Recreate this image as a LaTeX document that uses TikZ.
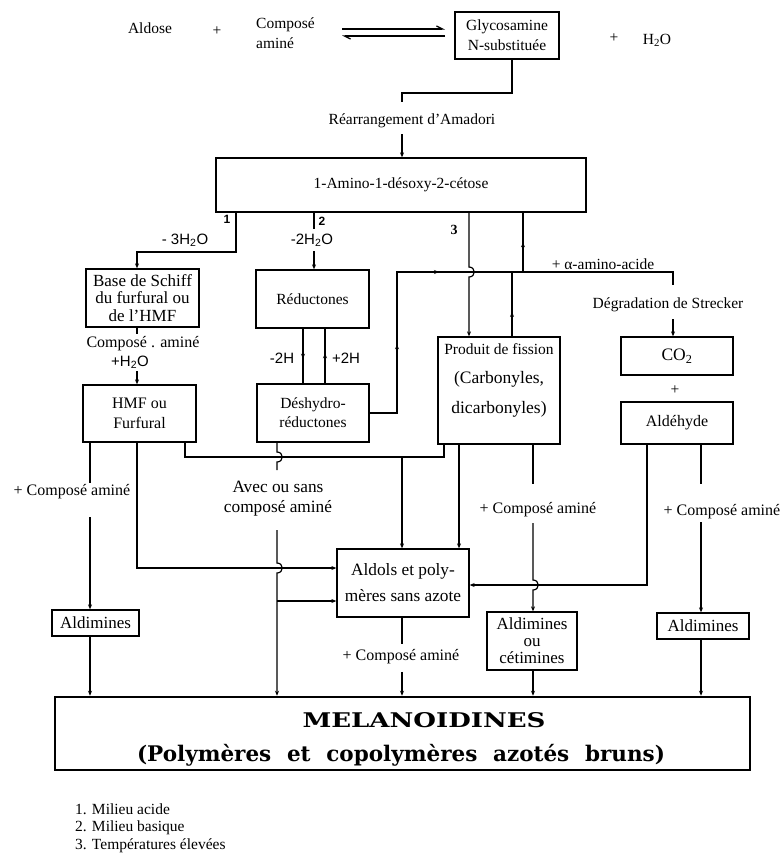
\documentclass[tikz,border=0pt]{standalone}
\usepackage{graphicx}
\usepackage{fontspec}
\setmainfont{Liberation Serif}
\newfontfamily\sansf{Liberation Sans}
\newfontfamily\heavy{DejaVu Serif}
\usetikzlibrary{arrows.meta,decorations.markings,calc}
\tikzset{
 ln/.style={line width=1.2pt},
 arr/.style={line width=1.2pt, ->},
 box/.style={draw, line width=1.3pt, inner sep=0pt, align=center, font=\fontsize{15.5}{19}\selectfont},
 txt/.style={inner sep=0pt, align=center, font=\fontsize{15.5}{19}\selectfont},
 lab/.style={inner sep=0pt, align=center, font=\fontsize{16}{20}\selectfont},
 bigtxt/.style={inner sep=0pt, align=center, font=\fontsize{17.3}{20}\selectfont},
 sans/.style={inner sep=0pt, font=\sansf\fontsize{15}{17}\selectfont},
 num/.style={inner sep=0pt, font=\sansf\bfseries\fontsize{12}{12}\selectfont},
 midarr/.style={postaction={decorate}, decoration={markings, mark=at position #1 with {\arrow{>}}}},
 harp/.style={line width=1.2pt, -{Straight Barb[harpoon,length=6pt,width=6pt]}},
}
\begin{document}
\begin{tikzpicture}[x=1pt,y=-1pt, >={Stealth[length=5pt,width=4pt]}]
\useasboundingbox (0,0) rectangle (782,855);
% column / row helpers
\foreach \n in {90,137,185,236,277,303,314,325,397,402,444,459,469,512,523,533,647,673,701}{\coordinate (c\n) at (\n,0);}
\foreach \n in {93,252,272,457,568,585,601}{\coordinate (r\n) at (0,\n);}
\coordinate (h1) at (469,272);
\coordinate (h2) at (277,457);
\coordinate (h3) at (277,568);
\coordinate (h4) at (533,585);
\coordinate (sk) at (673,285);
\coordinate (eq1) at (342,29);
\coordinate (eq2) at (445,29);
\coordinate (eq3) at (445,36);
\coordinate (eq4) at (342,36);

% top row
\node[txt] (aldose) at (150,28) {Aldose};
\node[txt] (plus1) at (217,31) {+};
\node[txt, anchor=west, align=left, font=\fontsize{15.5}{20}\selectfont] (comp) at (256,33) {Composé\\aminé};
\node[box, minimum width=104pt, minimum height=47pt, font=\fontsize{15.5}{20}\selectfont] (gly) at (507,35.5) {Glycosamine\\N-substituée};
\node[txt] (plus2) at (614,38) {+};
\node[txt] (water) at (657,40) {H\textsubscript{2}O};
\draw[harp] (eq1) -- (eq2);
\draw[harp] (eq3) -- (eq4);

\node[txt] (amad) at (412,121) {Réarrangement d'Amadori};
\node[box, minimum width=370pt, minimum height=54pt] (amino) at (401,185) {1-Amino-1-désoxy-2-cétose};

% labels of branches
\node[num] (n1) at (227,219) {1};
\node[num] (n2) at (322,221) {2};
\node[inner sep=0pt, font=\bfseries\fontsize{14}{14}\selectfont] (n3) at (454,230) {3};
\node[sans] (m3) at (185,240) {- 3H\textsubscript{2}O};
\node[sans] (m2) at (312,240) {-2H\textsubscript{2}O};

% second level boxes
\node[box, minimum width=113pt, minimum height=58pt, font=\fontsize{17}{17.5}\selectfont] (schiff) at (142.5,298) {Base de Schiff\\du furfural ou\\de l'HMF};
\node[box, minimum width=113pt, minimum height=58pt] (reduc) at (312.5,299) {Réductones};
\node[lab] (ca) at (143,344) {Composé . aminé};
\node[sans] (ph) at (130,362) {+H\textsubscript{2}O};
\node[box, minimum width=113pt, minimum height=57pt, font=\fontsize{16}{20}\selectfont] (hmf) at (139.5,413.5) {HMF ou\\Furfural};
\node[box, minimum width=112pt, minimum height=58pt] (deshy) at (313,413) {Déshydro-\\réductones};
\node[sans] (mh) at (282,358) {-2H};
\node[sans] (ph2) at (346,358) {+2H};

\node[box, minimum width=122pt, minimum height=107pt] (fission) at (499,390.5) {};
\node[txt, font=\fontsize{15.5}{20}\selectfont] (fistxt) at (499,380) {Produit de fission\\[9pt]{\fontsize{17.5}{20}\selectfont (Carbonyles,}\\[10pt]{\fontsize{17.5}{20}\selectfont dicarbonyles)}};

\node[txt] (aa) at (603,264) {+ α-amino-acide};
\node[txt] (strk) at (668,305) {Dégradation de Strecker};
\node[box, minimum width=112pt, minimum height=38pt, font=\fontsize{17.5}{20}\selectfont] (co2) at (677,356) {CO\textsubscript{2}};
\node[txt] (plus3) at (675,390) {+};
\node[box, minimum width=112pt, minimum height=42pt, font=\fontsize{16}{20}\selectfont] (ald) at (677,423) {Aldéhyde};

% lower part
\node[box, minimum width=132pt, minimum height=68pt, font=\fontsize{17.3}{26}\selectfont] (aldols) at (403,583) {Aldols et poly-\\mères sans azote};
\node[box, minimum width=87pt, minimum height=26pt, font=\fontsize{17}{18}\selectfont] (aldim1) at (95.5,623) {Aldimines};
\node[box, minimum width=90pt, minimum height=58pt, font=\fontsize{17}{17}\selectfont] (aldim2) at (532,641) {Aldimines\\ou\\cétimines};
\node[box, minimum width=92pt, minimum height=26pt, font=\fontsize{17}{18}\selectfont] (aldim3) at (703,626) {Aldimines};
\node[lab] (lc1) at (72,492) {+ Composé aminé};
\node[lab] (lc2) at (538,510) {+ Composé aminé};
\node[lab] (lc3) at (722,512) {+ Composé aminé};
\node[lab] (lc4) at (401,657) {+ Composé aminé};
\node[bigtxt] (avec) at (278,499) {Avec ou sans\\composé aminé};

\node[draw, line width=2.5pt, inner sep=0pt, minimum width=695pt, minimum height=73pt] (mela) at (402.5,733.5) {};
\node[inner sep=0pt, font=\heavy\bfseries] (mel1) at (424,720) {\resizebox{243pt}{15pt}{MELANOIDINES}};
\node[inner sep=0pt, font=\heavy\bfseries\fontsize{21.5}{24}\selectfont] (mel2) at (401,755) {\makebox[528pt][s]{(Polymères et copolymères azotés bruns)}};

\node[inner sep=0pt, anchor=west, align=left, font=\fontsize{15.5}{17.5}\selectfont] (foot) at (75,828) {1. Milieu acide\\2. Milieu basique\\3. Températures élevées};

% connectors
\draw[ln] (gly.south -| c512) |- (c402 |- r93) -- ++(0,9);
\draw[arr] (amino.north -| c402) ++(0,-23) -- (amino.north -| c402);

\draw[arr] (amino.south -| c236) |- (c137 |- r252) -- (schiff.north -| c137);
\draw[ln] (amino.south -| c314) -- ++(0,16);
\draw[arr] (reduc.north -| c314) ++(0,-18) -- (reduc.north -| c314);
\draw[arr] (amino.south -| c469) -- ([yshift=5pt]h1) .. controls +(7,0) and +(7,0) .. ([yshift=-5pt]h1) -- (fission.north -| c469);
\draw[ln, midarr=0.5] (c523 |- r272) -- (amino.south -| c523);
\draw[ln, postaction={decorate}, decoration={markings, mark=at position 0.21 with {\arrow{>}}, mark=at position 0.46 with {\arrow{>}}}] (deshy.east) -| (c397 |- r272) -| (sk);
\draw[ln, midarr=0.38] (fission.north -| c512) -- (c512 |- r272);
\draw[arr] (co2.north -| c673) ++(0,-17) -- (co2.north -| c673);

\draw[ln, midarr=0.55] (reduc.south -| c303) -- (deshy.north -| c303);
\draw[ln, midarr=0.55] (deshy.north -| c325) -- (reduc.south -| c325);

\draw[ln] (schiff.south -| c137) -- ++(0,6);
\draw[arr] (hmf.north -| c137) ++(0,-13) -- (hmf.north -| c137);

\draw[ln] (hmf.south -| c90) -- ++(0,40);
\draw[arr] (aldim1.north -| c90) ++(0,-92) -- (aldim1.north -| c90);
\draw[arr] (aldim1.south -| c90) -- (mela.north -| c90);
\draw[arr] (hmf.south -| c137) |- (aldols.west |- r568);
\draw[ln] (hmf.south -| c185) |- (c444 |- r457) -- (fission.south -| c444);
\draw[arr] (c402 |- r457) -- (aldols.north -| c402);

\draw[ln] (deshy.south -| c277) -- ([yshift=5pt]h2) .. controls +(7,0) and +(7,0) .. ([yshift=-5pt]h2) -- ++(0,8);
\draw[arr] ([yshift=38pt]h3) -- ([yshift=5pt]h3) .. controls +(7,0) and +(7,0) .. ([yshift=-5pt]h3) -- (mela.north -| c277);
\draw[arr] (c277 |- r601) -- (aldols.west |- r601);

\draw[arr] (fission.south -| c459) -- (aldols.north -| c459);
\draw[ln] (fission.south -| c533) -- ++(0,39);
\draw[arr] ([yshift=62pt]h4) -- ([yshift=5pt]h4) .. controls +(7,0) and +(7,0) .. ([yshift=-5pt]h4) -- (aldim2.north -| c533);
\draw[arr] (aldim2.south -| c533) -- (mela.north -| c533);

\draw[arr] (ald.south -| c647) |- (aldols.east |- r585);
\draw[ln] (ald.south -| c701) -- ++(0,39);
\draw[arr] (aldim3.north -| c701) ++(0,-90) -- (aldim3.north -| c701);
\draw[arr] (aldim3.south -| c701) -- (mela.north -| c701);

\draw[ln] (aldols.south -| c402) -- ++(0,26);
\draw[arr] (mela.north -| c402) ++(0,-24) -- (mela.north -| c402);
\end{tikzpicture}
\end{document}
